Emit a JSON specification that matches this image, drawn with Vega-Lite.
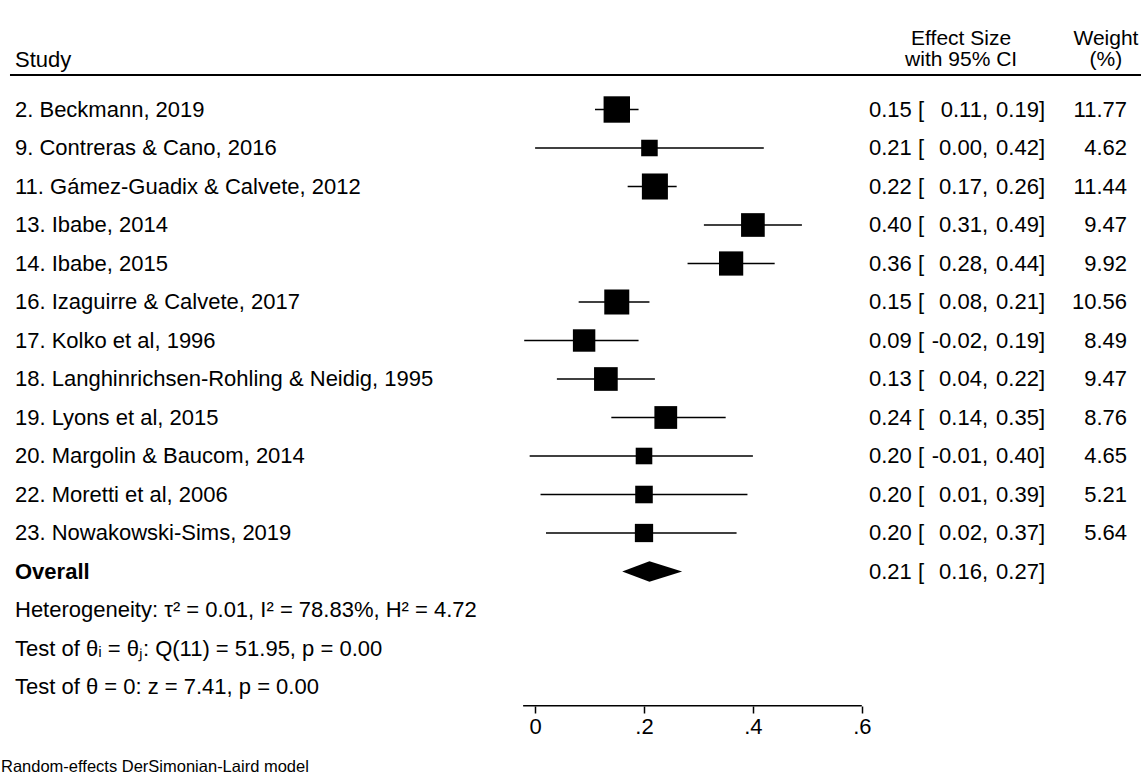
{
  "$schema": "https://vega.github.io/schema/vega-lite/v6.json",
  "width": 1141,
  "height": 706,
  "padding": {"left": 0, "top": 0, "right": 0, "bottom": 69},
  "autosize": {"type": "none"},
  "background": "white",
  "config": {
    "view": {"stroke": null},
    "text": {"font": "Liberation Sans", "fontSize": 22, "fill": "black", "baseline": "middle"},
    "rule": {"color": "black"}
  },
  "resolve": {"axis": {"x": "independent", "y": "independent"}},
  "datasets": {
    "rows": [
      {"study": "2. Beckmann, 2019", "es": 0.15, "lo": 0.11, "hi": 0.19, "w": 11.77},
      {"study": "9. Contreras & Cano, 2016", "es": 0.21, "lo": 0.00, "hi": 0.42, "w": 4.62},
      {"study": "11. Gámez-Guadix & Calvete, 2012", "es": 0.22, "lo": 0.17, "hi": 0.26, "w": 11.44},
      {"study": "13. Ibabe, 2014", "es": 0.40, "lo": 0.31, "hi": 0.49, "w": 9.47},
      {"study": "14. Ibabe, 2015", "es": 0.36, "lo": 0.28, "hi": 0.44, "w": 9.92},
      {"study": "16. Izaguirre & Calvete, 2017", "es": 0.15, "lo": 0.08, "hi": 0.21, "w": 10.56},
      {"study": "17. Kolko et al, 1996", "es": 0.09, "lo": -0.02, "hi": 0.19, "w": 8.49},
      {"study": "18. Langhinrichsen-Rohling & Neidig, 1995", "es": 0.13, "lo": 0.04, "hi": 0.22, "w": 9.47},
      {"study": "19. Lyons et al, 2015", "es": 0.24, "lo": 0.14, "hi": 0.35, "w": 8.76},
      {"study": "20. Margolin & Baucom, 2014", "es": 0.20, "lo": -0.01, "hi": 0.40, "w": 4.65},
      {"study": "22. Moretti et al, 2006", "es": 0.20, "lo": 0.01, "hi": 0.39, "w": 5.21},
      {"study": "23. Nowakowski-Sims, 2019", "es": 0.20, "lo": 0.02, "hi": 0.37, "w": 5.64},
      {"study": "Overall", "es": 0.21, "lo": 0.16, "hi": 0.27}
    ],
    "stats": [
      {"study": "Heterogeneity: τ² = 0.01, I² = 78.83%, H² = 4.72"},
      {"study": "Test of θᵢ = θⱼ: Q(11) = 51.95, p = 0.00"},
      {"study": "Test of θ = 0: z = 7.41, p = 0.00"}
    ]
  },
  "layer": [
    {
      "data": {"name": "rows"},
      "transform": [{"filter": "isValid(datum.w)"}],
      "mark": {"type": "rule", "strokeWidth": 1.5, "color": "black"},
      "encoding": {
        "x": {"field": "lo", "type": "quantitative",
          "scale": {"domain": [-0.98274, 1.11277], "nice": false, "zero": false},
          "axis": {"orient": "bottom", "values": [0, 0.2, 0.4, 0.6], "domain": false, "grid": false, "ticks": true, "tickSize": 7, "tickWidth": 1.5, "tickColor": "black",
            "labelFont": "Liberation Sans", "labelFontSize": 22, "labelColor": "black", "labelPadding": 3, "labelFlush": false, "labelOverlap": false,
            "labelExpr": "datum.value == 0 ? '0' : replace(format(datum.value, '.1f'), '0.', '.')", "title": null}},
        "x2": {"field": "hi"},
        "y": {"field": "study", "type": "nominal",
          "scale": {"type": "point", "padding": 0, "domain": ["2. Beckmann, 2019", "9. Contreras & Cano, 2016", "11. Gámez-Guadix & Calvete, 2012", "13. Ibabe, 2014", "14. Ibabe, 2015", "16. Izaguirre & Calvete, 2017", "17. Kolko et al, 1996", "18. Langhinrichsen-Rohling & Neidig, 1995", "19. Lyons et al, 2015", "20. Margolin & Baucom, 2014", "22. Moretti et al, 2006", "23. Nowakowski-Sims, 2019", "Overall", "Heterogeneity: τ² = 0.01, I² = 78.83%, H² = 4.72", "Test of θᵢ = θⱼ: Q(11) = 51.95, p = 0.00", "Test of θ = 0: z = 7.41, p = 0.00"], "range": [109.5, 687]},
          "axis": null}
      }
    },
    {
      "data": {"name": "rows"},
      "transform": [{"filter": "isValid(datum.w)"}],
      "mark": {"type": "point", "shape": "square", "filled": true, "color": "black", "opacity": 1, "strokeWidth": 0},
      "encoding": {
        "x": {"field": "es", "type": "quantitative", "axis": null},
        "y": {"field": "study", "type": "nominal", "axis": null},
        "size": {"field": "w", "type": "quantitative", "scale": {"type": "linear", "domain": [0, 11.77], "range": [0, 697], "zero": true, "nice": false}, "legend": null}
      }
    },
    {
      "data": {"name": "rows"},
      "transform": [{"filter": "datum.study == 'Overall'"}],
      "mark": {"type": "point", "shape": "M-0.832,0L0,-0.315L1,0L0,0.315Z", "size": 4277, "filled": true, "color": "black", "opacity": 1, "strokeWidth": 0},
      "encoding": {
        "x": {"field": "es", "type": "quantitative", "axis": null},
        "y": {"field": "study", "type": "nominal", "axis": null}
      }
    },
    {
      "data": {"name": "rows"},
      "transform": [{"filter": "datum.study != 'Overall'"}],
      "mark": {"type": "text", "align": "left"},
      "encoding": {
        "x": {"datum": -0.9552, "type": "quantitative", "axis": null},
        "y": {"field": "study", "type": "nominal", "axis": null},
        "text": {"field": "study"}
      }
    },
    {
      "data": {"name": "rows"},
      "transform": [{"filter": "datum.study == 'Overall'"}],
      "mark": {"type": "text", "align": "left", "fontWeight": "bold"},
      "encoding": {
        "x": {"datum": -0.9552, "type": "quantitative", "axis": null},
        "y": {"field": "study", "type": "nominal", "axis": null},
        "text": {"field": "study"}
      }
    },
    {
      "data": {"name": "stats"},
      "mark": {"type": "text", "align": "left"},
      "encoding": {
        "x": {"datum": -0.9552, "type": "quantitative", "axis": null},
        "y": {"field": "study", "type": "nominal", "axis": null},
        "text": {"field": "study"}
      }
    },
    {
      "data": {"name": "rows"},
      "mark": {"type": "text", "align": "left", "text": {"expr": "format(datum.es, '.2f') + ' ['"}},
      "encoding": {
        "x": {"datum": 0.6132, "type": "quantitative", "axis": null},
        "y": {"field": "study", "type": "nominal", "axis": null}
      }
    },
    {
      "data": {"name": "rows"},
      "mark": {"type": "text", "align": "right", "text": {"expr": "(datum.lo < 0 ? '-' : '') + format(abs(datum.lo), '.2f') + ','"}},
      "encoding": {
        "x": {"datum": 0.8318, "type": "quantitative", "axis": null},
        "y": {"field": "study", "type": "nominal", "axis": null}
      }
    },
    {
      "data": {"name": "rows"},
      "mark": {"type": "text", "align": "right", "text": {"expr": "format(datum.hi, '.2f') + ']'"}},
      "encoding": {
        "x": {"datum": 0.9365, "type": "quantitative", "axis": null},
        "y": {"field": "study", "type": "nominal", "axis": null}
      }
    },
    {
      "data": {"name": "rows"},
      "transform": [{"filter": "isValid(datum.w)"}],
      "mark": {"type": "text", "align": "right"},
      "encoding": {
        "x": {"datum": 1.0871, "type": "quantitative", "axis": null},
        "y": {"field": "study", "type": "nominal", "axis": null},
        "text": {"field": "w", "type": "quantitative", "format": ".2f"}
      }
    },
    {
      "data": {"values": [{"t": "Study"}]},
      "mark": {"type": "text", "align": "left", "dy": -49.5},
      "encoding": {
        "x": {"datum": -0.9552, "type": "quantitative", "axis": null},
        "y": {"datum": "2. Beckmann, 2019", "type": "nominal", "axis": null},
        "text": {"field": "t"}
      }
    },
    {
      "data": {"values": [{"t": "Effect Size"}]},
      "mark": {"type": "text", "align": "center", "dy": -70.5, "fontSize": 21},
      "encoding": {
        "x": {"datum": 0.7824, "type": "quantitative", "axis": null},
        "y": {"datum": "2. Beckmann, 2019", "type": "nominal", "axis": null},
        "text": {"field": "t"}
      }
    },
    {
      "data": {"values": [{"t": "with 95% CI"}]},
      "mark": {"type": "text", "align": "center", "dy": -49.5, "fontSize": 21},
      "encoding": {
        "x": {"datum": 0.7824, "type": "quantitative", "axis": null},
        "y": {"datum": "2. Beckmann, 2019", "type": "nominal", "axis": null},
        "text": {"field": "t"}
      }
    },
    {
      "data": {"values": [{"t": "Weight"}]},
      "mark": {"type": "text", "align": "center", "dy": -70.5, "fontSize": 21},
      "encoding": {
        "x": {"datum": 1.0484, "type": "quantitative", "axis": null},
        "y": {"datum": "2. Beckmann, 2019", "type": "nominal", "axis": null},
        "text": {"field": "t"}
      }
    },
    {
      "data": {"values": [{"t": "(%)"}]},
      "mark": {"type": "text", "align": "center", "dy": -49.5, "fontSize": 21},
      "encoding": {
        "x": {"datum": 1.0484, "type": "quantitative", "axis": null},
        "y": {"datum": "2. Beckmann, 2019", "type": "nominal", "axis": null},
        "text": {"field": "t"}
      }
    },
    {
      "data": {"values": [{"t": "header line"}]},
      "mark": {"type": "rule", "strokeWidth": 2, "color": "black", "yOffset": -34.5},
      "encoding": {
        "x": {"datum": -0.9644, "type": "quantitative", "axis": null},
        "x2": {"datum": 1.11277},
        "y": {"datum": "2. Beckmann, 2019", "type": "nominal", "axis": null}
      }
    },
    {
      "data": {"values": [{"t": "axis line"}]},
      "mark": {"type": "rule", "strokeWidth": 1.5, "color": "black", "yOffset": 18.7},
      "encoding": {
        "x": {"datum": -0.022, "type": "quantitative", "axis": null},
        "x2": {"datum": 0.6},
        "y": {"datum": "Test of θ = 0: z = 7.41, p = 0.00", "type": "nominal", "axis": null}
      }
    },
    {
      "data": {"values": [{"t": "Random-effects DerSimonian-Laird model"}]},
      "mark": {"type": "text", "align": "left", "dy": 80, "fontSize": 16.5},
      "encoding": {
        "x": {"datum": -0.9809, "type": "quantitative", "axis": null},
        "y": {"datum": "Test of θ = 0: z = 7.41, p = 0.00", "type": "nominal", "axis": null},
        "text": {"field": "t"}
      }
    }
  ]
}
